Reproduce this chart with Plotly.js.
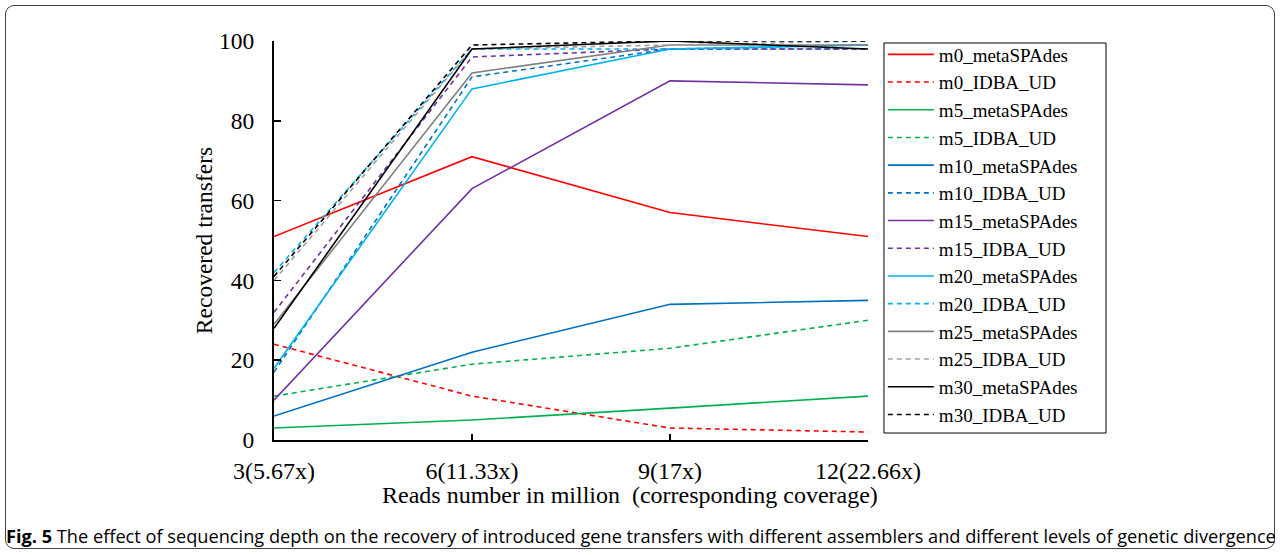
<!DOCTYPE html>
<html>
<head>
<meta charset="utf-8">
<script src="https://cdn.plot.ly/plotly-3.0.1.min.js"></script>
<style>
  html, body { margin: 0; padding: 0; background: #fff; }
  #wrap { position: relative; width: 1281px; height: 555px; }
  #frame { position: absolute; left: 5px; top: 5px; width: 1270px; height: 544px; border: 1px solid #444; border-radius: 9px; box-sizing: border-box; }
  #chart { position: absolute; left: 0; top: 0; width: 1281px; height: 555px; }
</style>
</head>
<body>
<div id="wrap">
  <div id="frame"></div>
  <div id="chart"></div>
</div>
<script>
// Data
const reads = [3, 6, 9, 12];
const tickLabels = ["3(5.67x)", "6(11.33x)", "9(17x)", "12(22.66x)"];
const xTitle = "Reads number in million\u00a0 (corresponding coverage)";
const yTitle = "Recovered transfers";

const m0_metaSPAdes  = [51, 71, 57, 51];
const m0_IDBA_UD     = [24, 11, 3, 2];
const m5_metaSPAdes  = [3, 5, 8, 11];
const m5_IDBA_UD     = [11, 19, 23, 30];
const m10_metaSPAdes = [6, 22, 34, 35];
const m10_IDBA_UD    = [17, 91, 98, 98];
const m15_metaSPAdes = [10, 63, 90, 89];
const m15_IDBA_UD    = [32, 96, 98, 98];
const m20_metaSPAdes = [18, 88, 98, 99];
const m20_IDBA_UD    = [42, 98, 98, 99];
const m25_metaSPAdes = [29, 92, 99, 99];
const m25_IDBA_UD    = [40, 98, 99, 100];
const m30_metaSPAdes = [28, 98, 100, 98];
const m30_IDBA_UD    = [41, 99, 100, 100];

const seriesNames = ["m0_metaSPAdes","m0_IDBA_UD","m5_metaSPAdes","m5_IDBA_UD","m10_metaSPAdes","m10_IDBA_UD",
  "m15_metaSPAdes","m15_IDBA_UD","m20_metaSPAdes","m20_IDBA_UD","m25_metaSPAdes","m25_IDBA_UD","m30_metaSPAdes","m30_IDBA_UD"];
const seriesValues = [m0_metaSPAdes,m0_IDBA_UD,m5_metaSPAdes,m5_IDBA_UD,m10_metaSPAdes,m10_IDBA_UD,
  m15_metaSPAdes,m15_IDBA_UD,m20_metaSPAdes,m20_IDBA_UD,m25_metaSPAdes,m25_IDBA_UD,m30_metaSPAdes,m30_IDBA_UD];
const seriesColors = ["#FF0000","#FF0000","#00B050","#00B050","#0070C0","#0070C0",
  "#7030A0","#7030A0","#00B0F0","#00B0F0","#808080","#A0A0A0","#000000","#000000"];

const traces = seriesNames.map((n, i) => ({
  type: "scatter",
  mode: "lines",
  name: n,
  x: reads,
  y: seriesValues[i],
  line: { color: seriesColors[i], width: 1.6, dash: n.indexOf("IDBA") >= 0 ? "5px,4px" : "solid" },
  hoverinfo: "name+y"
}));

const serif = "Liberation Serif";

const layout = {
  width: 1281,
  height: 555,
  paper_bgcolor: "rgba(0,0,0,0)",
  plot_bgcolor: "rgba(0,0,0,0)",
  margin: { l: 274, r: 413, t: 41, b: 115, pad: 0 },
  showlegend: true,
  font: { family: serif, color: "#000", size: 24 },
  xaxis: {
    range: [3, 12],
    tickvals: reads,
    ticktext: tickLabels,
    showgrid: false,
    zeroline: false,
    showline: true,
    linecolor: "#000",
    linewidth: 2,
    ticks: "inside",
    ticklen: 6,
    tickwidth: 1.5,
    tickcolor: "#000",
    ticklabelstandoff: 8,
    tickfont: { family: serif, size: 24, color: "#000" }
  },
  yaxis: {
    range: [0, 100],
    tickvals: [0, 20, 40, 60, 80, 100],
    showgrid: false,
    zeroline: false,
    showline: true,
    linecolor: "#000",
    linewidth: 2,
    ticks: "inside",
    ticklen: 7,
    tickwidth: 1.5,
    tickcolor: "#000",
    ticklabelstandoff: 13,
    tickfont: { family: serif, size: 23.5, color: "#000" },
    title: { text: yTitle, font: { family: serif, size: 23.5, color: "#000" }, standoff: 0 }
  },
  legend: {
    x: 1.025,
    xanchor: "left",
    y: 1.0138,
    yanchor: "top",
    maxheight: 520,
    bgcolor: "rgba(0,0,0,0)",
    borderwidth: 0,
    itemwidth: 46,
    tracegroupgap: 0,
    font: { family: serif, size: 19, color: "#000" }
  },
  shapes: [{
    type: "rect", xref: "paper", yref: "paper",
    x0: 1.0269, x1: 1.4007, y0: 0.0175, y1: 0.995,
    line: { color: "#000", width: 1 },
    fillcolor: "#fff",
    layer: "below"
  }],
  annotations: [{
    xref: "paper", yref: "paper",
    x: 0.599, y: -0.138,
    xanchor: "center", yanchor: "middle",
    showarrow: false,
    text: xTitle,
    font: { family: serif, size: 24, color: "#000" }
  }, {
    xref: "paper", yref: "paper",
    x: -0.4545, y: -0.24,
    xanchor: "left", yanchor: "middle",
    showarrow: false,
    text: "<b>Fig. 5</b> The effect of sequencing depth on the recovery of introduced gene transfers with different assemblers and different levels of genetic divergence",
    font: { family: "Liberation Sans Narrow, Open Sans, sans-serif", size: 18.2, color: "#000" }
  }]
};

Plotly.newPlot("chart", traces, layout, { displayModeBar: false, staticPlot: true });
</script>
</body>
</html>
